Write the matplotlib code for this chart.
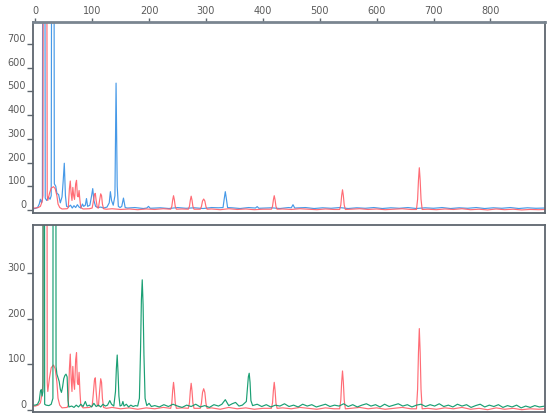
import numpy as np
import matplotlib
matplotlib.use("Agg")
import matplotlib.pyplot as plt

# ------------------------------------------------------------
# DATA (x in scan units)
# ------------------------------------------------------------
red_pts = [
    (-4, 8), (0, 8), (5, 10), (9, 15), (12, 35), (13.5, 60), (15, 3000), (17, 1500),
    (19, 3000), (21, 60), (22, 40), (25, 70), (28, 92), (32, 98), (35, 90), (38, 60),
    (40, 25), (43, 10), (47, 4), (56, 5),
    (58, 10), (60, 90), (61.5, 122), (63, 70), (64.5, 40), (66, 95), (67.5, 60),
    (69, 45), (71, 110), (72.5, 125), (74, 60), (75.5, 55), (77, 82), (78.5, 40),
    (80, 10), (84, 4), (95, 5), (100, 8), (102, 35), (104, 65), (105.5, 70), (107, 40),
    (109, 10), (111, 8), (113, 40), (115, 68), (116.5, 60), (118, 25), (120, 5),
    (125, 3), (135, 5), (150, 2), (165, 4), (180, 1), (195, 4), (210, 2), (225, 5),
    (238, 3), (240, 15), (241.5, 42), (243, 60), (244.5, 42), (246, 15), (248, 3),
    (258, 4), (269, 3), (271, 15), (272.5, 41), (274, 58), (275.5, 41), (277, 15),
    (279, 3), (290, 3), (292, 14), (294, 38), (296, 46), (298, 38), (300, 14),
    (302, 3), (310, 4), (325, 1), (340, 5), (355, 2), (370, 4), (385, 1), (400, 3),
    (415, 3), (417, 15), (418.5, 42), (420, 60), (421.5, 42), (423, 15), (425, 3),
    (435, 4), (450, 2), (465, 5), (480, 3), (495, 1), (510, 4), (525, 2),
    (535, 2), (537, 21), (538.5, 60), (540, 85), (541.5, 60), (543, 21), (545, 2),
    (555, 3), (570, 5), (585, 2), (600, 4), (615, 1), (630, 3), (645, 5), (660, 2),
    (670, 2), (672, 45), (673.5, 125), (675, 178), (676.5, 125), (678, 45), (680, 2),
    (690, 3), (705, 1), (720, 4), (735, 2), (750, 5), (765, 1), (780, 3), (795, 0),
    (810, 4), (825, 1), (840, 3), (855, 0), (870, 2), (885, 1), (896, 2),
]

blue_pts = [
    (-4, 5), (0, 6), (4, 10), (7, 25), (9, 45), (11, 30), (12.5, 45), (14, 3000),
    (16, 3000), (17.5, 50), (20, 40), (23, 55), (26, 45), (28, 60), (30, 3000),
    (32, 3000), (33.5, 110), (36, 100), (38, 70), (41, 65), (44, 30), (47, 55),
    (49, 120), (51, 197), (53, 60), (55, 15), (58, 12), (62, 20), (65, 8), (68, 18),
    (71, 10), (74, 22), (77, 12), (80, 8), (83, 25), (85, 15), (88, 20), (90, 48),
    (92, 15), (96, 20), (99, 60), (101, 90), (103, 40), (106, 15), (110, 10),
    (115, 12), (120, 8), (126, 12), (130, 30), (132, 77), (134, 40), (137, 20),
    (140, 60), (142, 535), (144, 100), (146, 15), (149, 10), (152, 15), (155, 50),
    (158, 10), (162, 8), (175, 10), (190, 6), (196, 8), (199, 15), (202, 7),
    (220, 9), (235, 6), (250, 10), (265, 7), (280, 9), (295, 6), (310, 10),
    (322, 9), (330, 10), (332, 45), (334, 77), (336, 45), (338, 10), (346, 9),
    (360, 6), (375, 10), (387, 8), (390, 14), (393, 7), (415, 9), (430, 6),
    (445, 10), (450, 9), (453, 22), (456, 8), (475, 10), (490, 6), (505, 9),
    (520, 7), (535, 10), (550, 6), (565, 9), (580, 7), (595, 10), (610, 6),
    (625, 9), (640, 7), (655, 10), (670, 6), (685, 9), (700, 7), (715, 10),
    (730, 6), (745, 9), (760, 7), (775, 10), (790, 6), (805, 9), (820, 7),
    (835, 10), (850, 6), (865, 9), (880, 7), (896, 8),
]

green_pts = [
    (-4, 10), (0, 10), (4, 12), (7, 20), (9, 40), (10.5, 44), (12, 30), (13.5, 40),
    (15, 3000), (16.5, 12), (19, 10), (24, 9), (28, 12), (31, 25), (32.5, 3000),
    (35, 3000), (36.5, 95), (38, 78), (40, 70), (42, 62), (44, 45), (46, 38),
    (48, 50), (50, 68), (52, 75), (54, 78), (56, 72), (57.5, 20), (59, 6), (64, 8),
    (68, 5), (72, 10), (76, 6), (80, 12), (84, 7), (88, 18), (91, 8), (95, 10),
    (99, 6), (103, 14), (107, 7), (111, 10), (115, 6), (119, 12), (123, 8),
    (127, 10), (131, 20), (134, 12), (138, 8), (141, 40), (142.5, 90), (144, 120),
    (145.5, 80), (147, 30), (149, 8), (152, 10), (154, 18), (156, 8), (160, 12),
    (164, 6), (168, 10), (172, 7), (176, 9), (180, 8), (183, 25), (185, 130),
    (186.5, 240), (188, 285), (189.5, 230), (191, 120), (193, 25), (196, 9),
    (200, 14), (204, 7), (210, 9), (218, 6), (226, 11), (234, 7), (242, 12),
    (250, 8), (258, 5), (266, 10), (274, 7), (282, 12), (290, 6), (298, 9),
    (306, 5), (314, 11), (322, 8), (328, 12), (334, 22), (340, 9), (346, 13),
    (352, 16), (358, 8), (364, 10), (371, 18), (373, 50), (374.5, 72), (376, 80),
    (377.5, 60), (379, 20), (382, 9), (390, 12), (398, 7), (406, 11), (414, 6),
    (422, 10), (430, 8), (438, 13), (446, 7), (454, 10), (462, 6), (470, 12),
    (478, 8), (486, 11), (494, 6), (502, 9), (510, 12), (518, 7), (526, 10),
    (534, 8), (542, 13), (550, 7), (558, 11), (566, 6), (574, 10), (582, 13),
    (590, 8), (598, 11), (606, 6), (614, 12), (622, 7), (630, 10), (638, 13),
    (646, 8), (654, 11), (662, 6), (670, 10), (678, 12), (686, 7), (694, 11),
    (702, 8), (710, 13), (718, 7), (726, 10), (734, 6), (742, 12), (750, 8),
    (758, 11), (766, 5), (774, 9), (782, 12), (790, 6), (798, 10), (806, 7),
    (814, 11), (822, 5), (830, 9), (838, 6), (846, 10), (854, 4), (862, 8),
    (870, 5), (878, 9), (886, 6), (896, 8),
]

x_ticks = [0, 100, 200, 300, 400, 500, 600, 700, 800]
top_yticks = [0, 100, 200, 300, 400, 500, 600, 700]
bottom_yticks = [0, 100, 200, 300]

RED = '#ff5c66'
BLUE = '#3d94e6'
GREEN = '#0e9a6c'
SPINE = '#5e666e'
TEXT = '#5a5a5a'


def xy(pts):
    arr = np.array(pts, dtype=float)
    return arr[:, 0], arr[:, 1]


fig = plt.figure(figsize=(5.5, 4.18), dpi=100)
ax_top = fig.add_axes([0.06, 0.4904, 0.931, 0.457])
ax_bot = fig.add_axes([0.06, 0.0144, 0.931, 0.447])

bx, by = xy(blue_pts)
rx, ry = xy(red_pts)
gx, gy = xy(green_pts)

ax_top.plot(bx, by, color=BLUE, lw=0.85, alpha=0.95)
ax_top.plot(rx, ry, color=RED, lw=0.85, alpha=0.9)
ax_bot.plot(rx, ry, color=RED, lw=0.85, alpha=0.9)
ax_bot.plot(gx, gy, color=GREEN, lw=0.85, alpha=0.95)

ax_top.set_ylim(-13, 793)
ax_bot.set_ylim(-5, 405)

for ax, yt in ((ax_top, top_yticks), (ax_bot, bottom_yticks)):
    ax.set_xlim(-4, 896)
    ax.set_yticks(yt)
    ax.set_yticklabels([str(v) for v in yt], fontsize=7, color=TEXT, va='bottom')
    ax.tick_params(axis='y', direction='out', length=4, width=1.0,
                   color=SPINE, pad=1)
    for s in ax.spines.values():
        s.set_color(SPINE)
        s.set_linewidth(1.3)

ax_top.xaxis.tick_top()
ax_top.set_xticks(x_ticks)
ax_top.set_xticklabels([str(v) for v in x_ticks], fontsize=7, color=TEXT)
ax_top.tick_params(axis='x', direction='out', length=3, width=1.0,
                   color=SPINE, pad=1)
ax_top.spines['top'].set_linewidth(2.0)
ax_top.spines['top'].set_color('#7a8590')

ax_bot.set_xticks([])

plt.savefig('out.png', dpi=100)
